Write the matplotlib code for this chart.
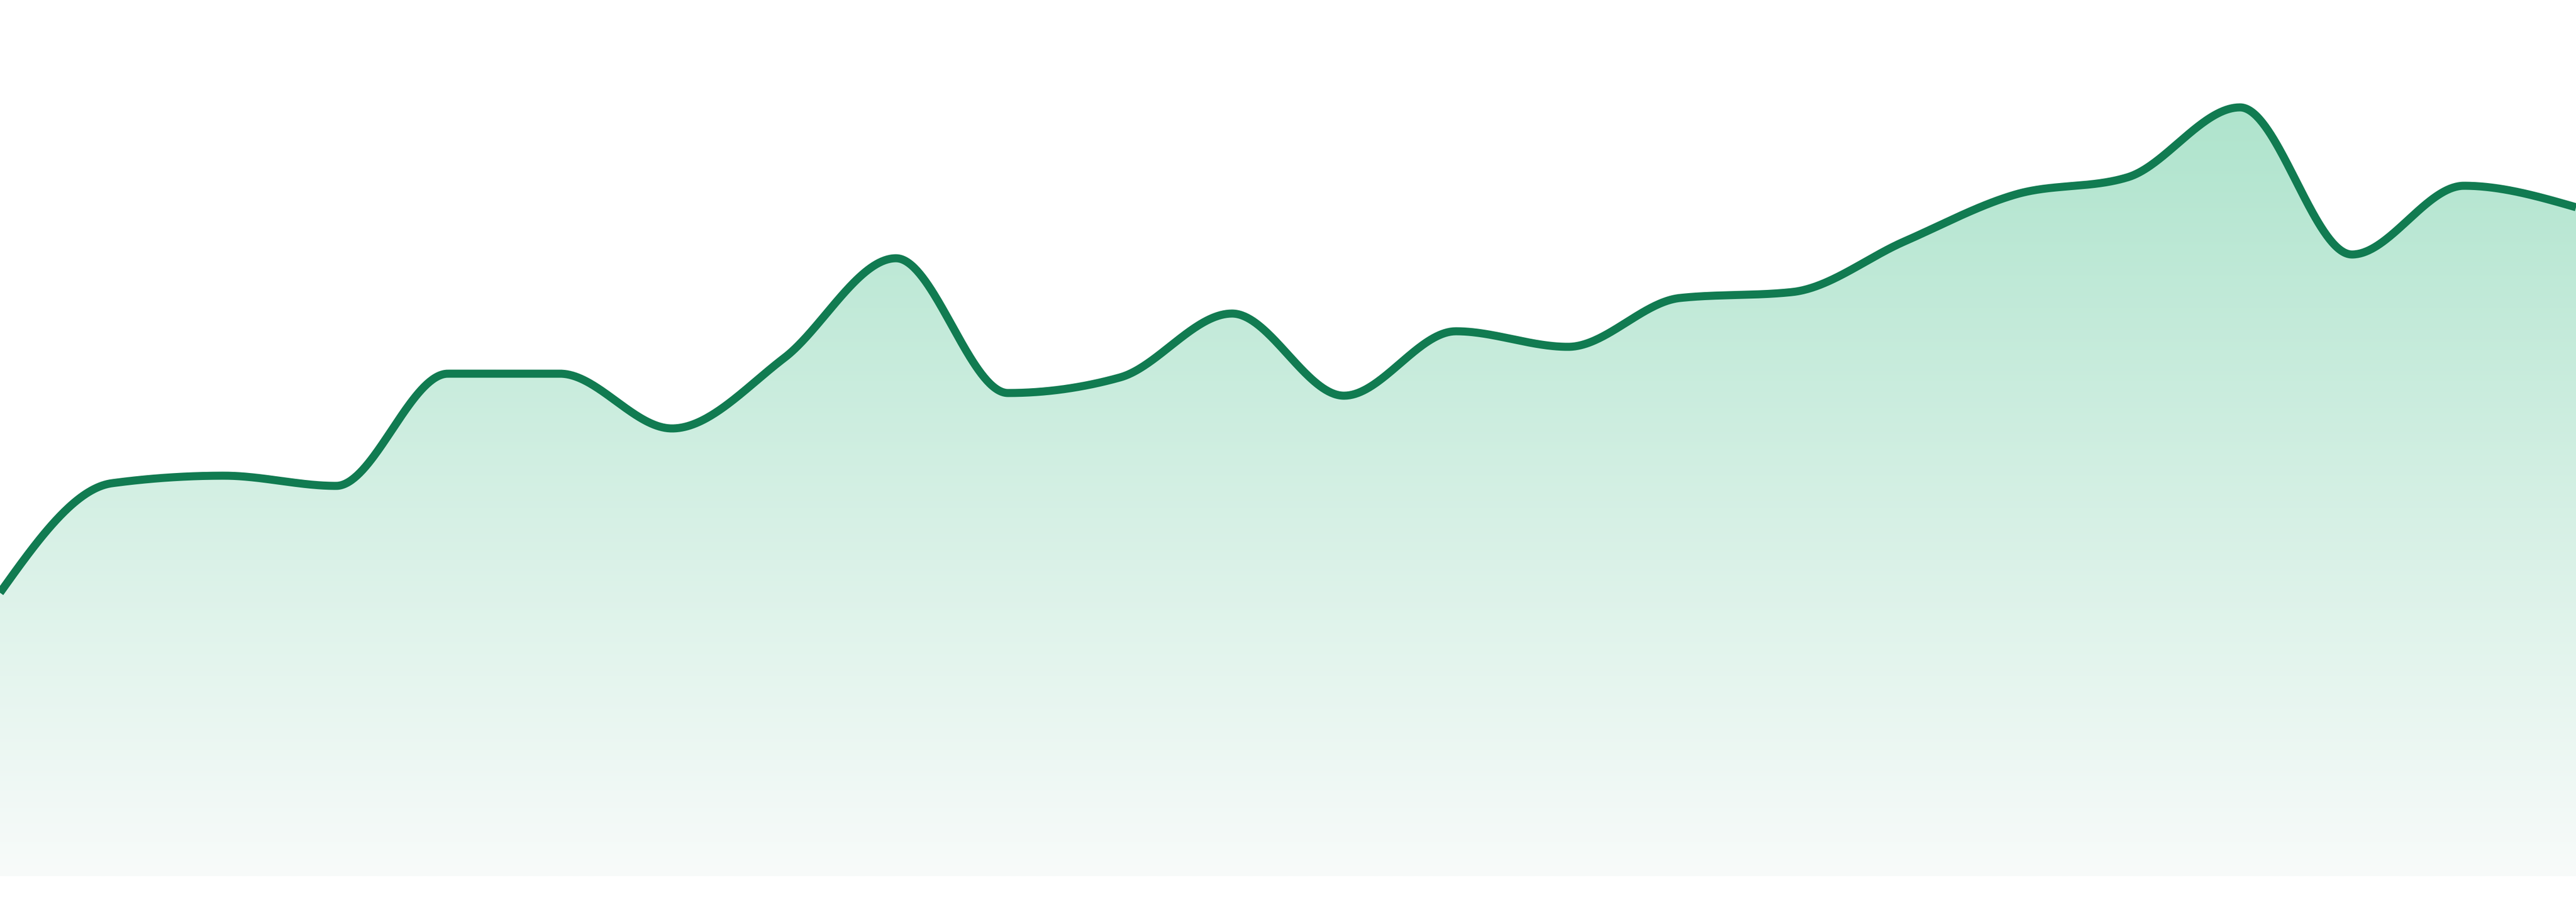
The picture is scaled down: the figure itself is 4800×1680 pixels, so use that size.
import numpy as np
import matplotlib
matplotlib.use("Agg")
import matplotlib.pyplot as plt

# ---- data ----
points = list(range(24))
values = [52.8, 73.2, 74.6, 72.7, 93.6, 93.6, 83.4, 96.5, 115.1, 90.0,
          92.9, 104.8, 89.5, 101.5, 98.6, 107.7, 108.8, 118.2, 127.0, 130.2,
          143.2, 115.8, 128.6, 124.6]

LINE_COLOR = "#117b51"
TOP_RGB = np.array([175, 228, 205]) / 255.0
BOT_RGB = np.array([248, 251, 250]) / 255.0


def monotone_x(x, y, n=80):
    """d3.curveMonotoneX style interpolation (Fritsch-Carlson)."""
    x = np.asarray(x, float)
    y = np.asarray(y, float)
    m = len(x)
    t = np.zeros(m)

    def sgn(v):
        return -1.0 if v < 0 else 1.0

    for i in range(1, m - 1):
        h0 = x[i] - x[i - 1]
        h1 = x[i + 1] - x[i]
        s0 = (y[i] - y[i - 1]) / h0
        s1 = (y[i + 1] - y[i]) / h1
        p = (s0 * h1 + s1 * h0) / (h0 + h1)
        val = (sgn(s0) + sgn(s1)) * min(abs(s0), abs(s1), 0.5 * abs(p))
        t[i] = val if np.isfinite(val) else 0.0
    h = x[1] - x[0]
    t[0] = (3 * (y[1] - y[0]) / h - t[1]) / 2
    h = x[-1] - x[-2]
    t[-1] = (3 * (y[-1] - y[-2]) / h - t[-2]) / 2

    xs, ys = [], []
    for i in range(m - 1):
        dx = x[i + 1] - x[i]
        u = np.linspace(0, 1, n, endpoint=(i == m - 2))
        h00 = 2 * u**3 - 3 * u**2 + 1
        h10 = u**3 - 2 * u**2 + u
        h01 = -2 * u**3 + 3 * u**2
        h11 = u**3 - u**2
        xs.append(x[i] + u * dx)
        ys.append(h00 * y[i] + h10 * dx * t[i] + h01 * y[i + 1] + h11 * dx * t[i + 1])
    return np.concatenate(xs), np.concatenate(ys)


fig = plt.figure(figsize=(16, 5.6), dpi=300)
ax = fig.add_axes([0, 0, 1, 1])
ax.set_xlim(0, 23)
ax.set_ylim(-4.8, 163.2)
ax.axis("off")

cx, cy = monotone_x(points, values)

# gradient-filled area
poly = ax.fill_between(cx, 0, cy, color="none", lw=0)
vmax = cy.max()
rows = 600
vv = np.linspace(163.2, -4.8, rows)
frac = np.clip(vv / vmax, 0, 1)[:, None]
img = BOT_RGB[None, :] + frac * (TOP_RGB - BOT_RGB)[None, :]
img = np.repeat(img[:, None, :], 2, axis=1)
im = ax.imshow(img, extent=[0, 23, -4.8, 163.2], aspect="auto",
               interpolation="bilinear", zorder=1)
clip = poly.get_paths()[0]
im.set_clip_path(clip, transform=ax.transData)

ax.plot(cx, cy, color=LINE_COLOR, lw=3.6, solid_capstyle="butt",
        solid_joinstyle="round", zorder=3)

fig.savefig("out.png", dpi=300, facecolor="white")
